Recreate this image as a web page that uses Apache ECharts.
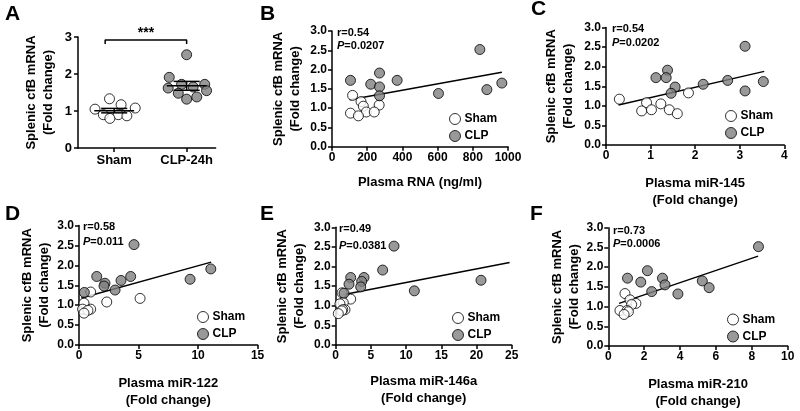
<!DOCTYPE html>
<html><head><meta charset="utf-8">
<script src="https://cdn.jsdelivr.net/npm/echarts@6/dist/echarts.min.js"></script>
<style>html,body{margin:0;padding:0;background:#fff}#c{width:800px;height:411px}</style>
</head><body><div id="c"></div>
<script>
const FONT = '"Liberation Sans", Arial, Helvetica, sans-serif';

// ---- shared y values (Splenic cfB mRNA, fold change) ----
const shamY = [1.33, 1.17, 1.08, 1.05, 0.90, 0.90, 0.87, 0.80];
const clpY  = [2.52, 1.91, 1.72, 1.72, 1.65, 1.62, 1.55, 1.48, 1.38, 1.32];

// ---- panel A (dot plot) ----
const groupsA  = ['Sham', 'CLP-24h'];
const groupPosA = [1, 3];
const shamXA = [0.87, 1.19, 1.58, 0.47, 0.70, 1.11, 1.35, 0.88];
const clpXA  = [3.00, 2.52, 2.86, 3.50, 3.18, 2.49, 3.55, 2.77, 3.28, 3.00];
const meanA = [1.01, 1.68];
const semA  = [0.06, 0.12];
const bracketA = [[0.75, 2.81], [0.75, 2.92], [3.0, 2.92], [3.0, 2.81]];
const sigA = '***';

// ---- panel B: Plasma RNA (ng/ml) ----
const shamXB = [117, 165, 268, 178, 195, 240, 105, 150];
const clpXB  = [840, 270, 105, 370, 965, 220, 270, 880, 605, 270];
const fitB = [[100, 1.22], [965, 1.93]];
const statB = ['0.54', '0.0207'];

// ---- panel C: Plasma miR-145 ----
const shamXC = [1.85, 0.30, 0.91, 1.23, 1.02, 1.42, 0.80, 1.60];
const clpXC  = [3.12, 1.38, 1.12, 1.35, 2.73, 3.53, 2.18, 1.55, 3.12, 1.46];
const fitC = [[0.28, 1.02], [3.55, 1.88]];
const statC = ['0.54', '0.0202'];

// ---- panel D: Plasma miR-122 ----
const shamXD = [0.98, 5.13, 2.33, 0.42, 0.30, 0.98, 0.75, 0.42];
const clpXD  = [4.62, 11.07, 1.49, 4.34, 9.33, 3.53, 2.18, 2.10, 3.03, 0.45];
const fitD = [[0.2, 1.18], [11.1, 2.08]];
const statD = ['0.58', '0.011'];

// ---- panel E: Plasma miR-146a ----
const shamXE = [0.90, 2.13, 1.08, 0.60, 1.32, 1.00, 0.85, 0.37];
const clpXE  = [8.28, 6.67, 2.13, 4.02, 20.64, 3.69, 1.89, 3.55, 11.17, 1.18];
const fitE = [[1.0, 1.28], [24.7, 2.10]];
const statE = ['0.49', '0.0381'];

// ---- panel F: Plasma miR-210 ----
const shamXF = [0.93, 1.21, 1.54, 1.30, 0.65, 1.05, 1.12, 0.88];
const clpXF  = [8.37, 2.18, 1.07, 3.02, 5.24, 1.81, 3.16, 5.62, 2.42, 3.88];
const fitF = [[0.6, 1.08], [8.35, 2.28]];
const statF = ['0.73', '0.0006'];

const yTitle = 'Splenic cfB mRNA\n(Fold change)';

const pair = (xs, ys) => xs.map((x, i) => [x, ys[i]]);

const panels = [
  {letter:'B', grid:{left:332, top:31, width:176, height:115.7}, xMax:1000, xInt:200,
   xName:'Plasma RNA (ng/ml)', xGap:27, yGap:28, sx:shamXB, cx:clpXB, fit:fitB, stat:statB,
   statPos:[337, 33, 13], legend:[449, 113], letterPos:[260, 4]},
  {letter:'C', grid:{left:606, top:27.5, width:178.3, height:117.5}, xMax:4, xInt:1,
   xName:'Plasma miR-145\n(Fold change)', xGap:30, yGap:29, sx:shamXC, cx:clpXC, fit:fitC, stat:statC,
   statPos:[612, 29, 14], legend:[725, 110], letterPos:[531, -1]},
  {letter:'D', grid:{left:79, top:225.5, width:178.6, height:119.5}, xMax:15, xInt:5,
   xName:'Plasma miR-122\n(Fold change)', xGap:30, yGap:26, sx:shamXD, cx:clpXD, fit:fitD, stat:statD,
   statPos:[83, 227, 15], legend:[197, 311], letterPos:[5, 204]},
  {letter:'E', grid:{left:335.7, top:227.3, width:176, height:117.7}, xMax:25, xInt:5,
   xName:'Plasma miR-146a\n(Fold change)', xGap:28, yGap:28, sx:shamXE, cx:clpXE, fit:fitE, stat:statE,
   statPos:[339, 229, 17], legend:[452, 312], letterPos:[260, 204]},
  {letter:'F', grid:{left:608.3, top:227.7, width:179.4, height:120}, xMax:10, xInt:2,
   xName:'Plasma miR-210\n(Fold change)', xGap:30, yGap:23, sx:shamXF, cx:clpXF, fit:fitF, stat:statF,
   statPos:[613, 231, 13], legend:[727, 313.5], letterPos:[530, 204]}
];

const axisLine = {show:true, lineStyle:{color:'#000', width:1.5}};
const axisTick = {show:true, inside:false, length:4, lineStyle:{color:'#000', width:1.5}};
const labelStyle = {color:'#000', fontWeight:'bold', fontSize:12, fontFamily:FONT};
const nameStyle = {color:'#000', fontWeight:'bold', fontSize:13, fontFamily:FONT, lineHeight:17};

const grids = [], xAxes = [], yAxes = [], series = [], legends = [], graphics = [];

// Panel A
grids.push({left:78, top:37, width:137.6, height:111});
xAxes.push({type:'value', gridIndex:0, min:0, max:3.8, splitLine:{show:false},
  axisLine, axisTick:Object.assign({}, axisTick, {customValues:groupPosA}),
  axisLabel:Object.assign({}, labelStyle, {fontSize:13, margin:6, customValues:groupPosA,
    formatter:v => groupsA[groupPosA.indexOf(v)] || ''})});
yAxes.push({type:'value', gridIndex:0, min:0, max:3, interval:1, splitLine:{show:false},
  axisLine, axisTick, axisLabel:Object.assign({}, labelStyle, {fontSize:13, margin:6}),
  name:yTitle, nameLocation:'middle', nameRotate:90, nameGap:21, nameTextStyle:nameStyle});
series.push({type:'scatter', xAxisIndex:0, yAxisIndex:0, symbolSize:10, z:3,
  itemStyle:{color:'#fff', borderColor:'#000', borderWidth:1}, data:pair(shamXA, shamY)});
series.push({type:'scatter', xAxisIndex:0, yAxisIndex:0, symbolSize:10, z:3,
  itemStyle:{color:'#808080', borderColor:'#000', borderWidth:1}, data:pair(clpXA, clpY)});
series.push({type:'custom', xAxisIndex:0, yAxisIndex:0, z:5, silent:true,
  data: groupPosA.map((g, i) => [g, meanA[i], semA[i]]),
  renderItem: (params, api) => {
    const x = api.value(0), m = api.value(1), s = api.value(2);
    const seg = (a, b) => ({type:'line', shape:{x1:a[0], y1:a[1], x2:b[0], y2:b[1]},
      style:{stroke:'#000', lineWidth:1.5}});
    return {type:'group', children:[
      seg(api.coord([x - 0.55, m]), api.coord([x + 0.55, m])),
      seg(api.coord([x - 0.36, m + s]), api.coord([x + 0.36, m + s])),
      seg(api.coord([x - 0.36, m - s]), api.coord([x + 0.36, m - s])),
      seg(api.coord([x, m - s]), api.coord([x, m + s]))
    ]};
  }});
series.push({type:'line', xAxisIndex:0, yAxisIndex:0, symbol:'none', z:4, silent:true,
  lineStyle:{color:'#000', width:1.5}, data:bracketA});
graphics.push({type:'text', x:146, y:33, style:{text:sigA, fill:'#000',
  font:'bold 14px ' + FONT, align:'center', verticalAlign:'middle'}});
graphics.push({type:'text', x:5, y:4, style:{text:'A', fill:'#000', font:'bold 21px ' + FONT}});

panels.forEach((p, k) => {
  const gi = k + 1;
  grids.push(p.grid);
  xAxes.push({type:'value', gridIndex:gi, min:0, max:p.xMax, interval:p.xInt, splitLine:{show:false},
    axisLine, axisTick, axisLabel:Object.assign({}, labelStyle, {margin:5, formatter:v => String(v)}),
    name:p.xName, nameLocation:'middle', nameGap:p.xGap, nameTextStyle:nameStyle});
  yAxes.push({type:'value', gridIndex:gi, min:0, max:3, interval:0.5, splitLine:{show:false},
    axisLine, axisTick, axisLabel:Object.assign({}, labelStyle, {margin:5, formatter:v => v.toFixed(1)}),
    name:yTitle, nameLocation:'middle', nameRotate:90, nameGap:p.yGap, nameTextStyle:nameStyle});
  series.push({type:'line', name:'fit', xAxisIndex:gi, yAxisIndex:gi, symbol:'none', z:2, silent:true,
    lineStyle:{color:'#000', width:1.5}, data:p.fit});
  series.push({type:'scatter', name:'Sham', xAxisIndex:gi, yAxisIndex:gi, symbolSize:10, z:3,
    itemStyle:{color:'#fff', borderColor:'#000', borderWidth:1}, data:pair(p.sx, shamY)});
  series.push({type:'scatter', name:'CLP', xAxisIndex:gi, yAxisIndex:gi, symbolSize:10, z:3,
    itemStyle:{color:'#808080', borderColor:'#000', borderWidth:1}, data:pair(p.cx, clpY)});
  legends.push({data:['Sham', 'CLP'], orient:'vertical', left:p.legend[0], top:p.legend[1],
    padding:0, itemWidth:11, itemHeight:11, itemGap:5, selectedMode:false, icon:'circle',
    itemStyle:{borderColor:'#000', borderWidth:1},
    textStyle:{color:'#000', fontWeight:'bold', fontSize:12, fontFamily:FONT, padding:[0,0,0,-1]}});
  graphics.push({type:'text', x:p.statPos[0], y:p.statPos[1], style:{text:'r=' + p.stat[0],
    fill:'#000', font:'bold 11px ' + FONT, verticalAlign:'middle'}});
  graphics.push({type:'text', x:p.statPos[0], y:p.statPos[1] + p.statPos[2], style:{
    text:'{i|P}=' + p.stat[1], fill:'#000', font:'bold 11px ' + FONT, verticalAlign:'middle',
    rich:{i:{fontStyle:'italic', fontWeight:'bold', fontSize:11, fontFamily:FONT}}}});
  graphics.push({type:'text', x:p.letterPos[0], y:p.letterPos[1], style:{text:p.letter, fill:'#000',
    font:'bold 21px ' + FONT}});
});

const chart = echarts.init(document.getElementById('c'));
chart.setOption({
  animation:false,
  backgroundColor:'#fff',
  textStyle:{fontFamily:FONT},
  grid:grids, xAxis:xAxes, yAxis:yAxes, series, legend:legends, graphic:graphics
});
</script></body></html>
